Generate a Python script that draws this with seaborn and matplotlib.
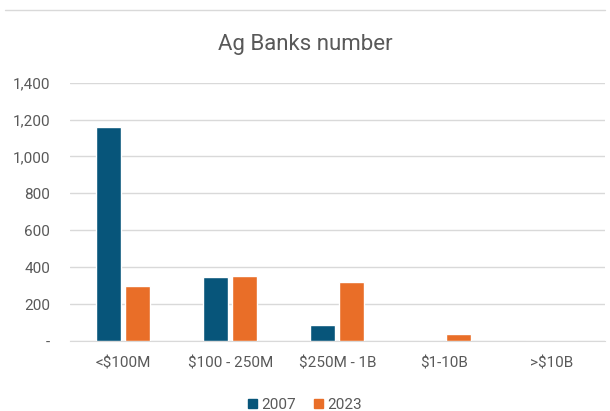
import pandas as pd
import matplotlib.pyplot as plt
import seaborn as sns
from matplotlib.lines import Line2D

# Bank counts by asset size
categories = ['<$100M', '$100 - 250M', '$250M - 1B', '$1-10B', '>$10B']
banks_2007 = [1158, 350, 85, 2, 0]
banks_2023 = [298, 353, 318, 40, 0]

df = pd.DataFrame({
    'size': categories * 2,
    'year': ['2007'] * len(categories) + ['2023'] * len(categories),
    'banks': banks_2007 + banks_2023,
})

sns.set_style('white')
plt.rcParams['font.family'] = ['Roboto', 'DejaVu Sans']

fig = plt.figure(figsize=(6.1, 4.11), dpi=100)
ax = fig.add_axes([0.114, 0.170, 0.878, 0.629])

palette = {'2007': '#07557A', '2023': '#E96E28'}
sns.barplot(data=df, x='size', y='banks', hue='year', palette=palette,
            saturation=1, width=0.54, gap=0.14, ax=ax, zorder=3)

ax.set_ylim(0, 1400)
ax.set_yticks(range(0, 1401, 200))
ax.set_yticklabels(['-'] + [f'{v:,}' for v in range(200, 1401, 200)])
ax.yaxis.grid(True, color='#D9D9D9', linewidth=1, zorder=0)
for s in ['top', 'right', 'left']:
    ax.spines[s].set_visible(False)
ax.spines['bottom'].set_color('#D9D9D9')
ax.tick_params(axis='both', length=0, labelsize=11, labelcolor='#595959')
ax.tick_params(axis='y', pad=14)
ax.tick_params(axis='x', pad=11)
ax.set_xlabel('')
ax.set_ylabel('')

fig.suptitle('Ag Banks number', y=0.918, fontsize=16, color='#595959')

ax.get_legend().remove()
fig.legend(handles=[plt.Rectangle((0, 0), 1, 1, color=palette['2007']),
                    plt.Rectangle((0, 0), 1, 1, color=palette['2023'])],
           labels=['2007', '2023'], loc='center', bbox_to_anchor=(0.5, 0.015),
           ncol=2, frameon=False, fontsize=11, labelcolor='#595959',
           handlelength=0.55, handleheight=0.55, handletextpad=0.3, columnspacing=1.2)

fig.add_artist(Line2D([0.008, 0.992], [0.976, 0.976], color='#D9D9D9', linewidth=1))

fig.savefig('out.png', dpi=100)
